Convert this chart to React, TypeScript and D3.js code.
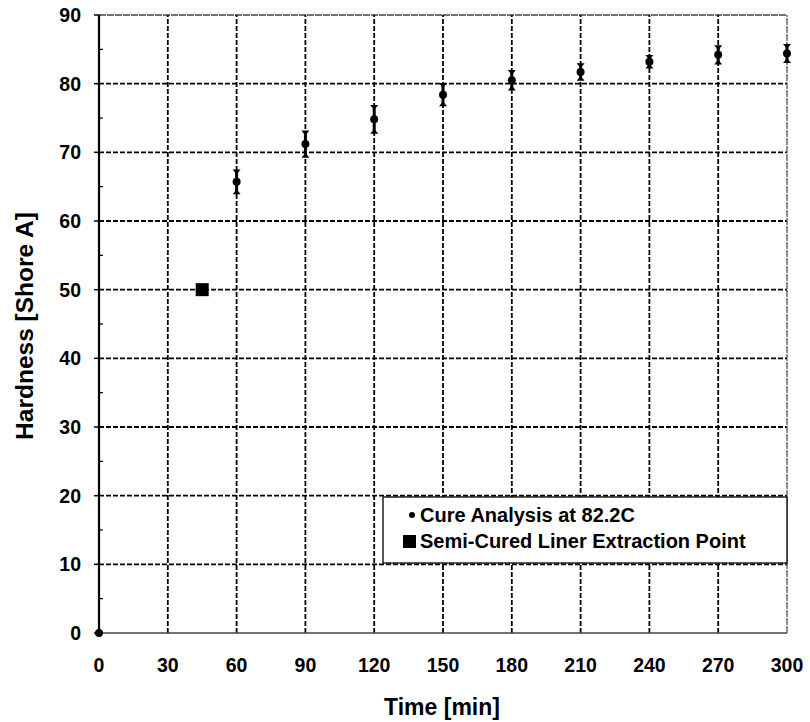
import React from "react";
import * as d3 from "d3";

const cureTimes = [0, 60, 90, 120, 150, 180, 210, 240, 270, 300];
const cureHardness = [0, 65.7, 71.2, 74.8, 78.4, 80.5, 81.7, 83.2, 84.2, 84.4];
const cureError = [0, 1.5, 1.7, 1.8, 1.4, 1.2, 1.0, 0.7, 1.1, 1.1];
const extractionTime = [45];
const extractionHardness = [50];
const xTicks = [0, 30, 60, 90, 120, 150, 180, 210, 240, 270, 300];
const yTicks = [0, 10, 20, 30, 40, 50, 60, 70, 80, 90];
const yMinorTicks = [5, 15, 25, 35, 45, 55, 65, 75, 85];
const legendLabels = ["Cure Analysis  at 82.2C", "Semi-Cured Liner Extraction Point"];

const W = 810;
const H = 722;
const FONT = "'Liberation Sans', Arial, sans-serif";

export default function App() {
  const x = d3.scaleLinear().domain([0, 300]).range([99, 787]);
  const y = d3.scaleLinear().domain([0, 90]).range([633, 15]);

  return (
    <svg width={W} height={H} style={{ position: "absolute", left: 0, top: 0, background: "#fff" }}>
      <rect x={0} y={0} width={W} height={H} fill="#fff" />
      {/* horizontal gridlines */}
      {yTicks.filter((t) => t > 0).map((t) => (
        <line key={"hy" + t} x1={x(0)} x2={x(300)} y1={y(t)} y2={y(t)}
          stroke={t === 90 ? "#444" : "#000"} strokeWidth={t === 90 ? 1.3 : 1.8}
          strokeDasharray={t === 90 ? "7,1" : "5,2"} />
      ))}
      {/* vertical gridlines */}
      {xTicks.filter((t) => t > 0).map((t) => (
        <line key={"vx" + t} x1={x(t)} x2={x(t)} y1={y(0)} y2={y(90)}
          stroke={t === 300 ? "#555" : "#000"} strokeWidth={t === 300 ? 1.3 : 1.8}
          strokeDasharray={t === 300 ? "7,1" : "5,2"} />
      ))}
      {/* bottom axis line */}
      <line x1={x(0)} x2={x(300)} y1={y(0)} y2={y(0)} stroke="#444" strokeWidth={1.3} />
      {/* y axis */}
      <line x1={x(0)} x2={x(0)} y1={y(0)} y2={y(90)} stroke="#000" strokeWidth={2.2} />
      {yTicks.map((t) => (
        <line key={"ty" + t} x1={x(0) - 5} x2={x(0)} y1={y(t)} y2={y(t)} stroke="#000" strokeWidth={1.5} />
      ))}
      {yMinorTicks.map((t) => (
        <line key={"tm" + t} x1={x(0)} x2={x(0) + 4} y1={y(t)} y2={y(t)} stroke="#000" strokeWidth={1.2} />
      ))}
      {/* y tick labels */}
      {yTicks.map((t) => (
        <text key={"ly" + t} x={81} y={y(t)} dy="0.36em" textAnchor="end"
          fontFamily={FONT} fontWeight="bold" fontSize={19.5} fill="#000">{t}</text>
      ))}
      {/* x tick labels */}
      {xTicks.map((t) => (
        <text key={"lx" + t} x={x(t)} y={672} textAnchor="middle"
          fontFamily={FONT} fontWeight="bold" fontSize={19.5} fill="#000">{t}</text>
      ))}
      {/* axis titles */}
      <text x={442} y={715} textAnchor="middle" fontFamily={FONT} fontWeight="bold" fontSize={23} fill="#000">Time [min]</text>
      <text transform={`translate(33,${326}) rotate(-90)`} textAnchor="middle" fontFamily={FONT}
        fontWeight="bold" fontSize={24.5} fill="#000">Hardness [Shore A]</text>

      {/* cure analysis points with error bars */}
      {cureTimes.map((t, i) => {
        const cx = x(t);
        const cy = y(cureHardness[i]);
        const e = cureError[i];
        const yt = y(cureHardness[i] + e);
        const yb = y(cureHardness[i] - e);
        return (
          <g key={"p" + t}>
            {e > 0 && (
              <g>
                <line x1={cx} x2={cx} y1={yt} y2={yb} stroke="#000" strokeWidth={3} />
                <path d={`M${cx - 4},${yt - 2}L${cx + 4},${yt - 2}L${cx},${yt + 3}Z`} fill="#000" />
                <path d={`M${cx - 4},${yb + 2}L${cx + 4},${yb + 2}L${cx},${yb - 3}Z`} fill="#000" />
              </g>
            )}
            <circle cx={cx} cy={cy} r={4} fill="#000" />
          </g>
        );
      })}
      {/* extraction point */}
      {extractionTime.map((t, i) => (
        <rect key={"s" + t} x={x(t) - 6.5} y={y(extractionHardness[i]) - 6.5} width={13} height={13} fill="#000" />
      ))}

      {/* legend */}
      <rect x={383} y={497} width={404} height={66} fill="#fff" stroke="#000" strokeWidth={1.3} />
      <circle cx={412} cy={515} r={3} fill="#000" />
      <text x={420} y={522} fontFamily={FONT} fontWeight="bold" fontSize={20} fill="#000">{legendLabels[0]}</text>
      <rect x={403} y={535} width={13} height={13} fill="#000" />
      <text x={420} y={548} fontFamily={FONT} fontWeight="bold" fontSize={20} fill="#000">{legendLabels[1]}</text>
    </svg>
  );
}
